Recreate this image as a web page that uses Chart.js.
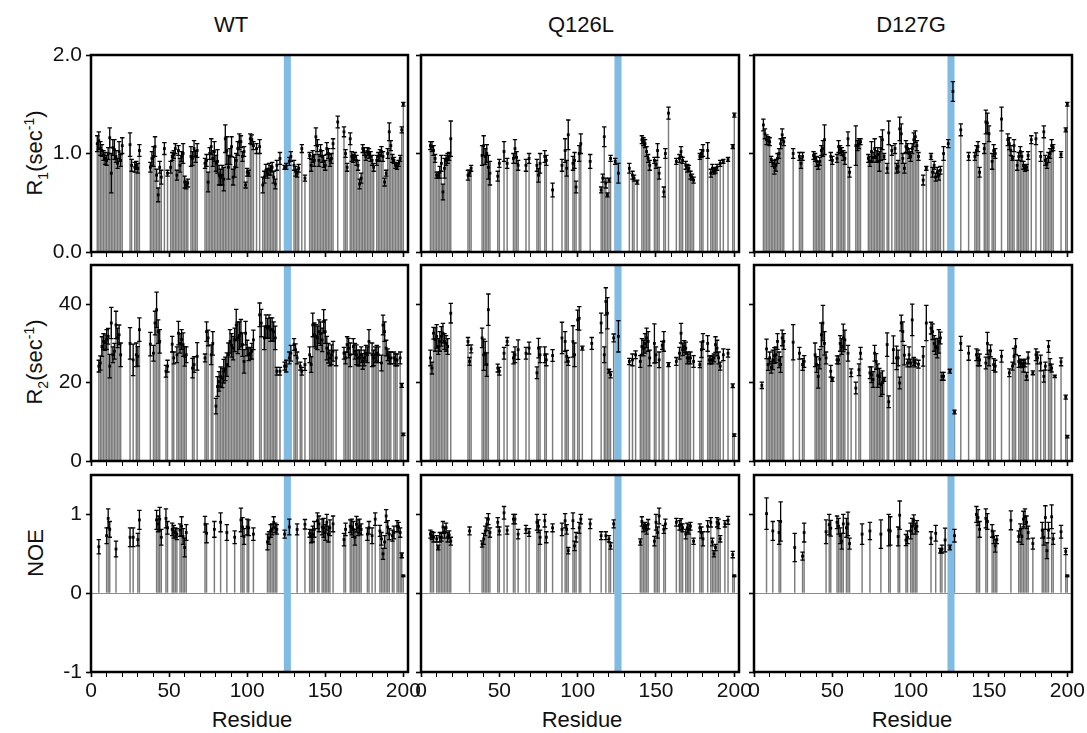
<!DOCTYPE html>
<html>
<head>
<meta charset="utf-8">
<script src="https://cdn.jsdelivr.net/npm/chart.js@4.4.1/dist/chart.umd.min.js"></script>
<style>
  body { margin: 0; background: #fff; width: 1087px; height: 733px; position: relative; overflow: hidden;
         font-family: "Liberation Sans", Arial, sans-serif; color: #111; }
  canvas { position: absolute; }
  .lbl { position: absolute; font-size: 22px; white-space: nowrap; transform: translate(-50%, -50%); }
  .ylbl { position: absolute; font-size: 22px; white-space: nowrap; transform: translate(-50%, -50%) rotate(-90deg); }
  sub, sup { font-size: 14px; }
</style>
</head>
<body>
<div class="lbl" style="left:231px;top:25px">WT</div>
<div class="lbl" style="left:581px;top:25px">Q126L</div>
<div class="lbl" style="left:911px;top:25px">D127G</div>
<div class="ylbl" style="left:36px;top:153px">R<sub>1</sub>(sec<sup>-1</sup>)</div>
<div class="ylbl" style="left:36px;top:362px">R<sub>2</sub>(sec<sup>-1</sup>)</div>
<div class="ylbl" style="left:36px;top:553px">NOE</div>
<div class="lbl" style="left:252px;top:720px">Residue</div>
<div class="lbl" style="left:582px;top:720px">Residue</div>
<div class="lbl" style="left:912px;top:720px">Residue</div>
<script>
// [residue, value, error]
const wtR1 = [[4,1.10,.08],[5,1.13,.09],[6,1.05,.07],[7,1.03,.06],[8,0.98,.05],[9,0.95,.06],[10,0.93,.05],[11,1.0,.06],[12,1.16,.1],[13,0.80,.2],[14,1.06,.08],[15,1.04,.1],[16,0.97,.06],[17,0.90,.05],[18,1.02,.1],[19,0.93,.06],[20,1.08,.08],
  [25,1.09,.12],[26,0.88,.06],[28,0.86,.05],[29,0.88,.04],[30,0.85,.05],[31,1.03,.06],
  [38,0.86,.05],[39,0.95,.07],[40,0.97,.1],[41,1.07,.1],[42,0.78,.06],[43,0.58,.07],[44,0.86,.06],[45,0.76,.07],[47,1.05,.06],[49,0.80,.03],
  [51,0.86,.06],[52,0.97,.04],[53,0.99,.04],[54,1.05,.05],[55,0.78,.05],[56,1.03,.05],[57,0.88,.07],[58,0.97,.05],[59,1.0,.1],[60,0.71,.06],[61,0.68,.04],[62,0.70,.04],
  [64,0.97,.1],[65,0.95,.07],[66,1.05,.08],[67,0.97,.06],[68,1.03,.07],
  [73,0.90,.05],[74,0.93,.06],[75,0.71,.1],[76,1.0,.06],[77,1.07,.08],[78,0.95,.08],[79,1.02,.1],[80,0.90,.08],[81,0.92,.12],[82,0.78,.1],[83,0.76,.08],[84,0.78,.1],[85,0.74,.12],[86,1.15,.14],[87,1.03,.14],[88,0.86,.12],[89,0.97,.08],[90,1.07,.1],[91,0.76,.08],[92,0.86,.1],[93,0.93,.07],[94,1.05,.07],[95,1.12,.08],[96,1.12,.06],[97,0.97,.05],[98,1.02,.05],[99,0.68,.03],[100,0.81,.04],[101,0.80,.03],[102,1.15,.05],[103,1.14,.05],[104,1.08,.04],[106,1.05,.05],[108,1.07,.07],
  [110,0.68,.08],[111,0.76,.06],[112,0.83,.06],[113,0.80,.05],[114,0.84,.06],[115,0.83,.05],[116,0.86,.05],[117,0.76,.06],[118,0.69,.05],[119,0.88,.05],[121,0.95,.06],[124,0.86,.02],[125,0.87,.03],
  [127,0.92,.04],[128,0.97,.05],[130,0.88,.05],[131,0.82,.05],[132,0.80,.04],[133,0.85,.04],[135,1.05,.04],[137,0.75,.03],
  [140,0.98,.03],[141,0.88,.06],[142,0.97,.06],[143,0.93,.06],[144,1.17,.09],[145,1.08,.06],[146,0.93,.06],[147,1.03,.06],[148,0.97,.06],[149,0.92,.06],[150,0.88,.05],[151,1.05,.06],[152,1.0,.05],[153,0.93,.06],[154,0.95,.05],[155,1.1,.05],[158,1.32,.06],
  [162,1.22,.05],[163,1.0,.04],[164,0.86,.04],[166,1.15,.06],[167,0.97,.05],[168,0.95,.04],[169,0.97,.04],[170,0.93,.05],[171,0.88,.05],[172,0.69,.05],[173,0.75,.05],[174,1.05,.04],[175,1.02,.04],[176,0.97,.04],[177,1.02,.04],[178,1.0,.05],[179,0.97,.05],[180,0.93,.05],[181,0.86,.04],[183,0.93,.05],[184,0.97,.04],[185,0.98,.06],[186,1.02,.05],[187,0.97,.05],[188,0.71,.04],[189,0.80,.03],[190,1.0,.05],[191,1.22,.09],[192,1.08,.05],[193,0.95,.04],[194,0.93,.03],[195,0.88,.03],[196,0.87,.03],[197,0.9,.03],[198,0.95,.03],[199,1.24,.03],[200,1.50,.02]];

const wtR2 = [[5,24.2,1.5],[6,25,1.8],[7,29.2,2.5],[8,30.5,2],[9,30.2,2],[10,31,2.5],[11,31.8,2],[12,24.2,3],[13,35.2,4],[14,27.1,2],[15,28,2],[16,34.7,3.5],[17,31.4,2.5],[18,32.2,2.5],[19,27.1,3],
  [25,30,4],[27,25.8,4],[29,27.1,3],[30,26.7,2.5],[31,33.5,3],
  [38,29.8,3],[40,27.5,2],[41,35.2,3],[42,38.6,4.5],[43,33,3],[44,30.5,3],[48,22.9,1.5],[49,24.2,1.5],
  [52,29.8,2],[53,26.3,1.5],[55,27.1,2],[56,32.6,3],[57,30,2.5],[58,31,2.5],[59,29.7,3],[60,26.7,2.5],[61,27.1,2],
  [65,23.7,2.5],[66,24.6,2],[68,26.7,3.5],
  [73,26.3,1],[74,33,2.5],[75,31.4,2],[77,27.1,2.5],[78,30,3],
  [80,14,2],[81,19,2.5],[82,20.3,2.5],[83,21.5,2.5],[84,21.2,2.5],[85,22.9,3],[86,23.5,3],[87,24.6,3],[88,27.1,3],[89,30.5,3],[90,29.5,3],[91,28.8,3],[92,30.9,3],[93,34.7,4],[94,31.4,4],[95,32,3.5],[96,32.6,3.5],[97,29.7,3],[98,25.4,3],[99,32.6,3],[100,28.8,2],[101,27.1,1.5],[102,27.5,1.5],[103,28,2],[104,30.9,2.5],
  [108,37.3,3],[109,35.2,3.5],[111,31.4,3],[112,34.3,3],[113,33.9,2.5],[114,34.3,3],[115,33.5,3],[116,33.5,3],[117,33,2.5],[118,31.4,3],
  [119,22.9,1],[121,22.9,1],[124,24.2,1],[125,24.2,1.5],[127,26.3,1.5],[128,27.5,2],[130,29.7,1.5],[131,28.4,1.5],[132,26.3,1.5],[134,24.2,1],[135,22.9,1],[137,24.6,1.5],
  [140,27.1,2],[141,24.6,2],[142,34.7,3],[143,32.2,3],[144,31.8,3],[145,31.4,3],[146,33,3],[147,32.5,3],[148,30.9,3],[149,35.6,3],[150,33,3],[151,28.8,3],[152,27.5,2.5],[153,26.3,2],[154,27.1,2.5],[155,28,2.5],[157,26.3,2],
  [162,27.5,1.5],[163,26.3,1.5],[164,29.7,2],[165,28.8,2.5],[166,27.1,3],[168,29.2,2],[169,28,2],[170,27.1,2.5],[171,26.3,2],[172,26.3,2],[173,27.1,2],[174,25.4,2],[175,26.3,2],[176,27.5,2],[177,27.1,2],[178,30.5,3],[180,27.1,3],[181,26.3,2],[182,27.1,2],[183,27.5,2],[184,27.1,2],[186,25,2],[187,34.7,2.5],[188,33,2.5],[189,28.8,2],[190,27.1,1.5],[191,26.3,1.5],[192,26.3,1.5],[194,26.3,1.5],[195,25.8,1.5],[196,25.8,1.5],[198,26.3,1.5],[199,19.3,0.5],[200,6.8,0.3]];

const wtNoe = [[5,0.59,.09],[10,0.73,.1],[11,0.95,.12],[12,0.81,.1],[16,0.56,.1],
  [25,0.71,.12],[27,0.71,.12],[30,0.68,.08],[31,0.93,.12],
  [42,0.93,.12],[43,0.88,.1],[44,0.94,.15],[45,0.71,.1],[48,0.95,.12],[49,0.83,.08],[52,0.81,.08],[53,0.78,.08],[54,0.77,.06],[55,0.75,.07],[57,0.80,.08],[58,0.85,.12],[59,0.72,.1],[60,0.58,.12],[61,0.77,.1],
  [73,0.875,.1],[74,0.76,.12],[79,0.81,.1],[83,0.9,.12],[87,0.77,.1],[92,0.71,.08],[96,0.93,.15],[97,0.84,.12],[98,0.72,.1],[100,0.84,.1],[101,0.83,.1],[104,0.75,.08],
  [113,0.65,.1],[114,0.70,.08],[115,0.79,.08],[116,0.81,.07],[117,0.9,.07],[118,0.83,.06],[119,0.81,.06],
  [124,0.75,.05],[127,0.84,.1],[132,0.81,.07],[137,0.875,.06],[140,0.76,.05],[141,0.72,.08],[142,0.75,.1],[143,0.81,.1],[145,0.92,.1],[146,0.88,.1],[148,0.84,.1],[149,0.83,.12],[150,0.77,.1],[151,0.9,.1],[152,0.75,.1],[153,0.83,.1],[155,0.88,.1],
  [162,0.68,.08],[163,0.81,.08],[166,0.85,.08],[167,0.84,.1],[168,0.81,.1],[169,0.71,.1],[170,0.875,.1],[171,0.83,.1],[172,0.85,.09],[173,0.81,.07],[177,0.75,.08],[178,0.83,.08],[180,0.73,.1],[182,0.94,.08],[185,0.79,.07],[186,0.69,.08],[187,0.5,.07],[188,0.65,.08],[189,0.98,.08],[190,0.84,.08],[191,0.75,.07],[193,0.73,.07],[194,0.77,.08],[196,0.85,.07],[197,0.84,.06],[198,0.77,.06],[199,0.48,.03],[200,0.22,.01]];

const q126lR1 = [[6,1.08,.04],[7,1.07,.05],[8,1.03,.05],[9,0.95,.04],[10,0.78,.03],[11,0.78,.03],[12,0.81,.06],[13,0.9,.08],[14,0.61,.08],[15,0.85,.1],[16,0.93,.05],[17,0.95,.05],[18,0.97,.04],[19,1.15,.18],
  [30,0.78,.05],[31,0.8,.03],[32,0.85,.03],
  [39,0.98,.1],[40,1.08,.1],[41,0.97,.08],[42,1.0,.09],[43,0.86,.12],[44,0.8,.12],
  [49,0.77,.05],[50,0.9,.04],[53,1.02,.1],[55,0.9,.05],[59,0.95,.05],[60,1.05,.09],[61,0.96,.06],[62,0.88,.05],[67,0.88,.06],[69,0.95,.05],
  [74,0.88,.06],[75,0.78,.07],[76,0.9,.1],[79,0.97,.06],[80,0.93,.05],[84,0.63,.07],
  [90,0.88,.06],[92,1.03,.12],[93,0.85,.08],[94,1.19,.15],[97,0.9,.07],[98,0.93,.08],[99,0.66,.06],[101,1.0,.08],[102,1.1,.1],[108,0.92,.07],
  [115,0.63,.03],[116,0.75,.04],[117,1.17,.1],[118,0.7,.05],[119,0.58,.02],[120,0.73,.02],[121,0.95,.03],[124,0.92,.03],[126,0.8,.1],
  [133,0.85,.05],[135,0.78,.04],[136,0.75,.03],[138,0.71,.02],
  [141,1.14,.04],[142,1.12,.04],[143,1.1,.04],[144,1.02,.05],[145,0.95,.04],[146,0.88,.05],[149,0.93,.03],[150,0.89,.04],[151,1.03,.07],[152,0.8,.06],[155,0.61,.05],[156,1.0,.05],[158,1.41,.06],
  [163,0.92,.03],[165,0.95,.04],[166,1.02,.05],[167,0.93,.03],[169,0.88,.04],[170,0.85,.04],[171,0.85,.03],[172,0.78,.04],[173,0.76,.03],[174,0.73,.03],[178,0.97,.03],[179,1.0,.04],[180,1.03,.06],[183,1.03,.08],[185,0.8,.04],[186,0.85,.04],[187,0.82,.03],[188,0.83,.03],[189,0.86,.03],[191,0.9,.03],[193,0.92,.02],[196,0.94,.02],[199,1.07,.02],[200,1.39,.02]];

const q126lR2 = [[6,26.3,2],[7,23.7,1.5],[8,32.6,1.5],[9,31,3],[10,31.8,3],[11,29.2,2],[12,30.5,2.5],[13,31.8,2.5],[14,32.6,2.5],[15,30.5,2],[16,30,2],[17,29.2,2],[19,37.7,2.5],
  [30,30.5,1],[31,25.4,1],[32,28.6,1],
  [39,31.4,2.5],[40,27.1,4],[41,27.5,3],[42,24.6,3],[43,38.6,4],
  [49,23.7,1],[50,22.9,1],[53,27.5,1.5],[55,30.5,1],[59,26.3,1.5],[60,27.1,2],[62,28.4,2.5],[67,27.5,1.5],[69,28.8,1.5],
  [74,22.5,1.5],[75,28.8,2.5],[76,27.1,2],[79,27.1,2],[80,25.8,1.5],[84,26.9,1.5],
  [90,31.4,4],[92,30.5,2.5],[93,26.7,1.5],[94,25.4,1],[97,30.5,4],[98,27.1,3],[100,36,2.5],[101,36.4,3],[103,28.8,0.5],[109,30,1.5],
  [115,35.2,2.5],[117,27.1,2],[118,40.7,3.5],[119,37.7,4],[120,22.9,0.5],[121,22,0.8],[123,31.4,1],[126,31.8,4],
  [133,25.4,0.8],[135,25.8,1.5],[137,27.1,1],[140,25.4,1.5],[141,29.2,2],[142,28.8,2],[143,30,2.5],[144,31.4,2.5],[145,30.5,2.5],[146,26.3,2],[149,30,5],[150,27.1,2],[152,25.8,2],[154,29.5,1],[155,30.5,2.5],[158,24.6,0.5],
  [163,25.4,1],[165,27.5,1.5],[166,32.6,2.5],[167,28.4,1.5],[168,29.2,1.5],[169,28.8,1.5],[170,26.3,1.5],[171,26.3,1],[172,26.3,1.5],[174,25.4,1.5],[178,24.6,0.8],[179,28.4,2],[180,30.5,2],[183,30,2],[184,25.8,1],[185,25.8,1],[186,25.8,1],[187,26.3,1],[188,29.7,2],[189,28.8,2],[190,26.3,1.5],[191,24.2,1],[193,27.1,1.5],[196,27.5,1],[199,19.2,0.5],[200,6.6,0.3]];

const q126lNoe = [[6,0.75,.05],[7,0.73,.05],[8,0.71,.06],[10,0.69,.04],[11,0.58,.03],[12,0.71,.06],[13,0.71,.05],[14,0.84,.07],[15,0.77,.07],[16,0.83,.06],[17,0.71,.06],[18,0.74,.05],[19,0.66,.05],
  [31,0.79,.05],
  [39,0.625,.04],[40,0.69,.07],[41,0.79,.06],[42,0.875,.08],[43,0.94,.07],[44,0.77,.06],
  [49,0.9,.06],[50,0.79,.05],[53,1.02,.08],[55,0.8,.05],[59,0.94,.06],[60,0.94,.06],[62,0.75,.06],[67,0.81,.05],[69,0.77,.05],
  [74,0.9,.1],[75,0.85,.08],[76,0.71,.09],[79,0.92,.08],[80,0.71,.07],[84,0.83,.05],
  [90,0.81,.08],[92,0.92,.09],[93,0.81,.06],[94,0.54,.04],[97,0.92,.1],[98,0.6,.06],[99,0.71,.06],[101,0.83,.07],[102,0.94,.06],[108,0.88,.06],
  [115,0.73,.05],[118,0.73,.05],[120,0.69,.04],[121,0.6,.04],[123,0.88,.05],
  [140,0.65,.04],[141,0.91,.06],[142,0.83,.05],[143,0.85,.05],[144,0.81,.06],[145,0.875,.06],[149,0.66,.06],[150,0.9,.1],[151,0.77,.07],[152,0.98,.1],[155,0.81,.05],[156,0.88,.06],
  [163,0.9,.05],[165,0.86,.06],[166,0.875,.07],[167,0.83,.05],[169,0.75,.06],[170,0.83,.06],[171,0.81,.06],[172,0.85,.05],[174,0.66,.04],[178,0.83,.05],[179,0.77,.07],[180,0.69,.09],[183,0.85,.07],[185,0.9,.06],[186,0.65,.05],[187,0.5,.04],[188,0.58,.04],[189,0.9,.06],[190,0.88,.06],[191,0.69,.04],[194,0.88,.04],[196,0.925,.05],[199,0.49,.04],[200,0.22,.01]];

const d127gR1 = [[6,1.29,.06],[7,1.2,.05],[8,1.14,.05],[9,1.13,.04],[10,1.12,.04],[11,0.94,.03],[12,0.9,.03],[13,0.86,.07],[14,0.88,.06],[15,0.95,.05],[16,1.0,.05],[17,1.1,.05],[18,1.19,.06],[19,1.12,.04],
  [25,1.0,.05],[29,0.97,.04],[30,0.9,.05],[31,0.97,.04],
  [38,0.98,.04],[39,0.96,.04],[40,0.92,.05],[41,0.88,.04],[42,0.92,.04],[43,1.03,.05],[44,1.05,.08],[45,1.14,.15],
  [49,0.97,.04],[50,0.93,.04],[53,0.95,.04],[54,1.07,.06],[55,1.04,.04],[56,1.02,.04],[57,0.98,.05],[58,0.95,.06],[60,1.15,.07],[61,0.81,.05],
  [65,1.08,.2],[66,1.08,.05],[67,1.1,.05],[68,1.12,.03],
  [73,0.95,.04],[74,0.92,.05],[75,1.02,.1],[76,0.96,.05],[77,1.05,.1],[78,0.97,.06],[79,0.99,.07],[80,0.92,.1],[81,1.05,.12],[82,1.14,.1],[83,0.97,.03],[85,0.85,.05],[86,1.21,.12],[88,1.03,.05],[90,1.05,.05],[91,0.85,.05],[92,0.87,.06],[93,1.25,.12],[94,1.2,.1],[95,0.95,.05],[96,0.85,.05],[97,1.07,.06],[98,1.05,.05],[99,1.0,.05],[100,0.97,.05],[101,1.05,.05],[102,1.14,.07],[103,1.17,.06],[104,1.08,.05],[105,0.97,.04],
  [108,0.73,.05],[110,0.85,.02],[113,0.97,.03],[114,0.81,.05],[115,0.88,.04],[116,0.76,.04],[117,0.81,.05],[118,0.78,.05],[119,0.83,.04],[121,1.0,.07],[124,1.1,.04],
  [127,1.63,.1],[132,1.24,.06],
  [137,0.97,.04],[141,0.97,.04],[142,1.03,.05],[143,1.07,.05],[144,0.81,.05],
  [147,1.05,.05],[148,1.32,.12],[149,1.31,.1],[150,1.2,.08],[152,0.92,.08],[153,1.03,.06],[154,1.0,.05],[158,1.35,.12],
  [162,1.14,.06],[163,1.1,.06],[164,1.03,.05],[165,0.95,.02],[166,1.08,.06],[168,0.88,.05],[169,0.97,.04],[170,1.02,.05],[171,0.97,.05],[172,0.88,.04],[173,0.85,.03],[174,0.86,.03],[175,0.98,.04],[177,1.14,.04],[180,1.15,.06],[183,0.97,.05],[185,1.22,.06],[186,0.93,.05],[187,0.9,.05],[188,0.96,.05],[189,1.0,.05],[190,1.08,.06],[191,1.06,.03],[196,0.99,.03],[199,1.24,.02],[200,1.5,.02]];

const d127gR2 = [[5,19.3,0.8],[8,28.6,2.5],[9,24.6,1.5],[10,26.3,1.5],[11,23.9,1.5],[12,25.8,2.5],[13,26.9,2],[14,27.1,2],[15,30.5,2],[16,25.8,2],[17,24.6,2],[18,31.4,2],[19,30.5,2],
  [25,30.3,4.5],[29,27.5,1.5],[31,24.6,1.5],[32,25.4,1.5],
  [39,27.1,3],[40,24.6,2],[41,21.6,3],[42,26,2.5],[43,32.2,3],[44,35.2,4.5],[45,30,3],[46,26.3,1.5],
  [49,22.9,1.5],[50,20.8,0.5],[53,25.8,1],[54,25.8,1],[55,30,2],[56,29.2,2],[57,31.4,3.5],[58,30.9,2.5],[60,27.5,2],[62,22.5,1],
  [65,18.6,1.5],[67,23.3,1.5],[68,27.5,1.5],
  [74,22.5,1.5],[75,22,2],[76,20.8,2],[77,27.5,2],[78,25.4,2],[79,21.8,3],[80,21.6,2],[81,19.5,3],[82,20,3],[83,20.8,0.5],[85,29.7,3],[86,15.1,1.5],[89,28.4,3.5],[91,26.3,3],[92,26.3,2],[93,19.9,1.5],[94,35.2,2],[95,33,2.5],[96,27,2.5],[98,25,1],[99,27.1,2],[100,25,1],[101,36,4],[102,25.4,1],[103,25,1],[105,24.7,1],
  [108,26.7,2.5],[110,35.2,4.5],[113,33.9,1.5],[114,33,2],[115,30,2],[116,29.2,2],[117,28.8,2.5],[118,30.5,3],[119,31.4,1.5],[120,21.6,1],[121,21.6,1],[125,22.9,0.5],[128,12.5,0.5],
  [132,30,1.8],[137,27.5,1.8],[142,27.1,1.5],[143,26.3,2],[144,25.8,1.5],[148,25,1.5],[149,30,2.8],[150,26.3,2],[151,28.1,1.5],[153,24.6,1.5],[154,24.2,1.5],[158,26.7,1.5],
  [163,22.5,1],[165,24.2,1],[166,26.7,2],[167,29.2,2],[169,25.4,1.5],[170,25,1],[171,24.8,1],[172,24.2,1.5],[173,25,1],[174,21.6,1],[175,26.3,1.5],[178,22.5,0.5],[180,27.1,1.5],[181,26.3,1.5],[183,25,2],[185,21.6,1.5],[186,24.2,1],[188,29.2,1.5],[189,24.6,1.5],[190,23.7,1],[192,21.6,0.3],[196,25.3,1],[199,16.3,0.5],[200,6.2,0.3]];

const d127gNoe = [[8,1.01,.2],[12,0.79,.12],[16,0.77,.15],[17,0.91,.25],[26,0.58,.18],[31,0.47,.05],[32,0.77,.12],
  [46,0.78,.15],[48,0.87,.13],[49,0.825,.1],[53,0.9,.08],[54,0.85,.1],[55,0.73,.1],[56,0.66,.1],[57,0.88,.12],[59,0.83,.12],[60,0.88,.15],[61,0.63,.07],
  [69,0.75,.13],[74,0.79,.11],[81,0.75,.18],[86,0.8,.2],[87,0.79,.18],[92,0.72,.12],[93,0.99,.18],[97,0.675,.07],[98,0.71,.08],[100,0.79,.1],[101,0.85,.1],[102,0.925,.07],[103,0.82,.07],[104,0.85,.07],
  [113,0.7,.08],[116,0.76,.1],[119,0.54,.03],[120,0.56,.05],[122,0.675,.15],[125,0.58,.03],[128,0.73,.08],
  [142,1.0,.1],[143,0.96,.1],[144,0.81,.1],[148,0.95,.12],[149,0.91,.1],[152,0.79,.08],[153,0.71,.08],[154,0.6,.08],[155,0.68,.05],
  [164,0.925,.12],[169,0.72,.07],[170,0.81,.07],[171,0.72,.1],[172,0.94,.1],[173,0.97,.1],[174,0.9,.08],[175,0.77,.08],[178,0.63,.07],[184,0.8,.1],[185,0.71,.1],[186,0.96,.15],[187,0.54,.1],[188,0.8,.1],[190,0.97,.15],[191,0.69,.07],[196,0.78,.08],[199,0.53,.04],[200,0.22,.01]];

const r1Ticks = [0, 1, 2];
const r2Ticks = [0, 20, 40];
const noeTicks = [-1, 0, 1];
const residueTicks = [0, 50, 100, 150, 200];
const highlight = [123.5, 128];

const panelData = [
  [wtR1, q126lR1, d127gR1],
  [wtR2, q126lR2, d127gR2],
  [wtNoe, q126lNoe, d127gNoe]
];

// plot-area placement (pixels) for each column / row
const cols = [{ left: 91, width: 317 }, { left: 421, width: 318 }, { left: 754, width: 318 }];
const rows = [
  { top: 55, height: 197, min: 0, max: 2, ticks: r1Ticks, fmt: v => v.toFixed(1) },
  { top: 265, height: 196, min: 0, max: 50, ticks: r2Ticks, fmt: v => String(v) },
  { top: 475, height: 197, min: -1, max: 1.5, ticks: noeTicks, fmt: v => String(v) }
];

const FONT = { family: "'Liberation Sans', Arial, sans-serif", size: 21 };

const panelPlugin = {
  id: "panelExtras",
  afterDatasetsDraw(chart) {
    const { ctx, chartArea: a, scales: { x, y } } = chart;
    ctx.save();
    // highlighted residue band
    const x0 = x.getPixelForValue(highlight[0]);
    const x1 = x.getPixelForValue(highlight[1]);
    ctx.fillStyle = "#80bbe3";
    ctx.fillRect(x0, a.top, x1 - x0, a.bottom - a.top);

    // error bars with caps and centre dot
    const ds = chart.data.datasets[0];
    ctx.strokeStyle = "#000";
    ctx.fillStyle = "#000";
    ctx.lineWidth = 1.3;
    ds.data.forEach((p, i) => {
      const e = ds.err[i];
      const px = x.getPixelForValue(p.x);
      const top = y.getPixelForValue(p.y + e);
      const bot = y.getPixelForValue(p.y - e);
      const py = y.getPixelForValue(p.y);
      ctx.beginPath();
      ctx.moveTo(px, top); ctx.lineTo(px, bot);
      ctx.moveTo(px - 2.2, top); ctx.lineTo(px + 2.2, top);
      ctx.moveTo(px - 2.2, bot); ctx.lineTo(px + 2.2, bot);
      ctx.stroke();
      ctx.fillRect(px - 1.4, py - 1.4, 2.8, 2.8);
    });
    ctx.restore();
  },
  afterDraw(chart) {
    const { ctx, chartArea: a } = chart;
    ctx.save();
    ctx.strokeStyle = "#000";
    ctx.lineWidth = 2.5;
    ctx.strokeRect(a.left, a.top, a.right - a.left, a.bottom - a.top);
    ctx.restore();
  }
};

function zeroPadding(s) {
  s.paddingLeft = 0; s.paddingRight = 0; s.paddingTop = 0; s.paddingBottom = 0;
}

function makePanel(ri, ci) {
  const row = rows[ri], col = cols[ci];
  const pts = panelData[ri][ci];
  const padL = ci === 0 ? 62 : 8;
  const padR = ri === 2 ? 22 : 6;
  const padT = 8;
  const padB = ri === 2 ? 36 : 8;

  const canvas = document.createElement("canvas");
  canvas.width = col.width + padL + padR;
  canvas.height = row.height + padT + padB;
  canvas.style.left = (col.left - padL) + "px";
  canvas.style.top = (row.top - padT) + "px";
  document.body.appendChild(canvas);

  new Chart(canvas, {
    type: "bar",
    data: {
      datasets: [{
        data: pts.map(p => ({ x: p[0], y: p[1] })),
        err: pts.map(p => p[2]),
        backgroundColor: "#7c7c7c",
        borderWidth: 0,
        barPercentage: 1,
        categoryPercentage: 0.92
      }]
    },
    options: {
      responsive: false,
      devicePixelRatio: 1,
      animation: false,
      layout: { padding: { left: 0, right: padR, top: padT, bottom: 0 } },
      plugins: { legend: { display: false }, tooltip: { enabled: false } },
      scales: {
        x: {
          type: "linear",
          min: 0,
          max: 203,
          offset: false,
          afterFit: s => { s.height = padB; zeroPadding(s); },
          afterBuildTicks: s => {
            const t = [];
            for (let v = 0; v <= 200; v += 10) t.push({ value: v });
            s.ticks = t;
          },
          grid: {
            offset: false,
            drawOnChartArea: false,
            tickLength: 5,
            tickColor: "#000",
            tickWidth: c => (residueTicks.includes(c.tick.value) ? 1.6 : 1)
          },
          border: { display: false },
          ticks: {
            autoSkip: false,
            maxRotation: 0,
            padding: 2,
            color: "#111",
            font: FONT,
            callback: v => (ri === 2 && residueTicks.includes(v) ? String(v) : "")
          }
        },
        y: {
          min: row.min,
          max: row.max,
          afterFit: s => { s.width = padL; zeroPadding(s); },
          afterBuildTicks: s => { s.ticks = row.ticks.map(v => ({ value: v })); },
          grid: {
            color: c => (ri === 2 && c.tick && c.tick.value === 0 ? "#8c8c8c" : "rgba(0,0,0,0)"),
            lineWidth: 1,
            tickLength: 5,
            tickColor: "#000",
            tickWidth: 1.6
          },
          border: { display: false },
          ticks: {
            padding: 4,
            color: "#111",
            font: FONT,
            callback: v => (ci === 0 ? row.fmt(v) : "")
          }
        }
      }
    },
    plugins: [panelPlugin]
  });
}

for (let r = 0; r < 3; r++) {
  for (let c = 0; c < 3; c++) makePanel(r, c);
}
</script>
</body>
</html>
